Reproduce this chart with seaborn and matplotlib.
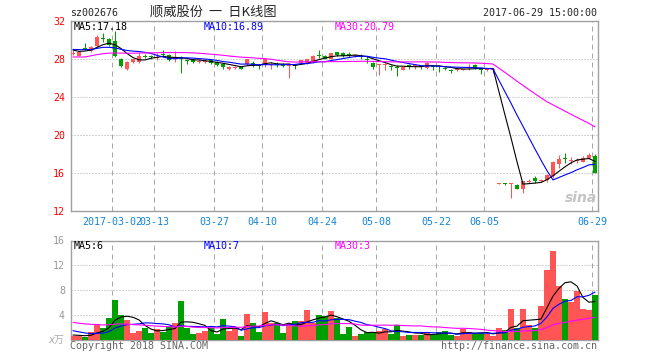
import numpy as np
import pandas as pd
import seaborn as sns
import matplotlib
matplotlib.use('Agg')
import matplotlib.pyplot as plt

# daily candles, 2017-02-21 .. 2017-06-29 (one entry per trading day)
opens = [28.60, 28.35, 29.15, 28.80, 29.40, 30.15, 30.10, 29.90, 28.00, 26.90,
         27.70, 27.70, 28.35, 28.30, 28.15, 28.50, 28.40, 28.10, 28.20, 27.90,
         27.95, 27.75, 27.70, 27.90, 27.70, 27.50, 26.90, 27.10, 27.20, 27.50,
         27.60, 27.35, 27.40, 27.35, 27.45, 27.50, 27.30, 27.35, 27.55, 27.55,
         27.70, 28.35, 28.30, 28.00, 28.70, 28.60, 28.45, 28.30, 28.30, 27.95,
         27.60, 27.35, 27.35, 27.20, 27.20, 26.85, 27.30, 27.25, 27.20, 27.10,
         27.20, 27.20, 27.10, 26.85, 26.90, 26.90, 27.10, 27.40, 26.95, 26.90,
         26.90, 14.85, 14.90, 14.85, 14.70, 14.30, 15.10, 15.45, 15.20, 15.30,
         15.70, 16.90, 17.55, 17.30, 17.25, 17.20, 17.55, 17.80]
highs = [28.90, 28.80, 29.70, 29.40, 30.50, 30.70, 30.20, 30.95, 28.10, 27.80,
         28.05, 28.60, 28.50, 28.40, 28.60, 28.90, 28.50, 28.80, 28.30, 28.05,
         28.00, 28.00, 27.95, 28.00, 27.80, 27.60, 27.30, 27.30, 27.30, 28.05,
         27.75, 27.50, 28.00, 27.70, 27.70, 27.55, 27.45, 27.50, 27.90, 28.00,
         28.40, 28.95, 28.40, 28.65, 28.75, 28.70, 28.70, 28.50, 28.50, 28.30,
         27.70, 27.50, 27.55, 27.35, 27.35, 27.20, 27.50, 27.50, 27.35, 27.65,
         27.35, 27.35, 27.15, 27.00, 27.05, 27.00, 27.50, 27.45, 27.05, 27.00,
         27.00, 15.00, 15.00, 14.95, 14.80, 15.20, 15.40, 15.70, 15.35, 15.85,
         17.25, 17.90, 18.10, 17.65, 17.55, 17.75, 18.15, 17.95]
lows = [28.45, 28.30, 28.95, 28.70, 29.30, 29.80, 29.40, 28.20, 27.20, 26.80,
        27.60, 27.60, 28.10, 28.00, 27.90, 28.20, 27.80, 27.70, 26.50, 27.50,
        27.60, 27.60, 27.60, 27.50, 27.30, 26.90, 26.80, 27.00, 26.90, 27.40,
        27.20, 26.95, 27.20, 27.00, 27.20, 27.15, 26.00, 27.00, 27.50, 27.50,
        27.60, 28.10, 28.00, 27.95, 28.30, 28.25, 28.20, 28.20, 28.00, 27.60,
        26.90, 26.30, 26.80, 26.80, 26.20, 26.80, 27.00, 27.00, 26.95, 27.00,
        26.80, 26.60, 26.85, 26.50, 26.70, 26.80, 26.85, 27.00, 26.40, 26.70,
        26.50, 14.80, 14.75, 13.40, 14.30, 13.90, 14.95, 14.90, 15.05, 15.10,
        15.50, 16.50, 17.05, 16.90, 17.10, 17.15, 17.50, 15.95]
closes = [28.65, 28.75, 29.10, 29.30, 30.30, 30.10, 29.50, 28.30, 27.30, 27.70,
          27.95, 28.30, 28.25, 28.20, 28.20, 28.45, 27.85, 28.15, 28.00, 27.85,
          27.70, 27.80, 27.75, 27.60, 27.40, 27.20, 27.20, 27.15, 26.95, 27.95,
          27.40, 27.30, 27.95, 27.40, 27.40, 27.25, 27.35, 27.30, 27.85, 27.95,
          28.30, 28.30, 28.05, 28.60, 28.40, 28.35, 28.40, 28.35, 28.25, 27.90,
          27.20, 27.40, 27.40, 27.15, 27.10, 27.15, 27.25, 27.30, 27.15, 27.60,
          27.15, 27.15, 26.90, 26.80, 26.95, 26.95, 27.15, 27.05, 26.90, 26.95,
          26.95, 14.90, 14.85, 14.90, 14.35, 15.15, 15.15, 15.15, 15.25, 15.80,
          17.20, 17.50, 17.50, 17.35, 17.30, 17.60, 17.90, 15.95]
# volume, x 10k
volumes = [0.64, 0.64, 0.50, 1.30, 2.60, 1.90, 3.60, 6.40, 4.00, 3.20,
           1.07, 1.44, 2.00, 1.07, 1.76, 1.33, 2.24, 2.80, 6.24, 2.00,
           0.96, 1.07, 1.44, 2.00, 0.96, 3.36, 1.44, 1.87, 0.64, 4.16,
           2.80, 1.23, 4.48, 2.77, 2.67, 1.07, 2.56, 3.04, 3.04, 4.80,
           2.77, 4.00, 3.84, 4.64, 3.47, 0.96, 2.13, 0.64, 0.96, 1.23,
           1.23, 1.44, 1.70, 0.96, 2.40, 0.64, 0.80, 0.80, 0.80, 1.23,
           0.80, 1.23, 1.44, 0.80, 0.64, 1.70, 1.30, 0.96, 1.07, 0.96,
           0.64, 2.00, 1.60, 4.96, 2.00, 4.96, 2.40, 2.00, 5.44, 11.20,
           14.24, 8.64, 6.56, 6.13, 7.90, 4.96, 4.80, 7.20]

# the 29 sessions before the first candle, only used to seed the moving averages
prev_closes = [28.75, 29.10, 25.50, 26.50, 27.50, 27.60, 27.80, 27.70, 27.90, 28.00,
               27.80, 27.90, 28.00, 27.90, 27.80, 27.90, 28.00, 28.10, 28.20, 28.30,
               29.00, 29.10, 29.20, 29.10, 28.95, 29.50, 28.90, 28.80, 28.90]
prev_volumes = [4.5, 3.8, 3.2, 4.0, 3.5, 2.9, 3.0, 3.6, 4.2, 3.3,
                2.8, 3.1, 3.9, 3.4, 3.0, 3.6, 3.2, 3.5, 3.3, 4.0,
                2.6, 2.2, 2.4, 1.9, 1.9, 0.9, 0.8, 0.9, 0.76]

tick_idx = [7, 14, 24, 32, 42, 51, 61, 69, 87]
tick_labels = ['2017-03-02', '03-13', '03-27', '04-10', '04-24', '05-08', '05-22', '06-05', '06-29']
price_ticks = [12, 16, 20, 24, 28, 32]
vol_ticks = [4, 8, 12, 16]

RED = '#ff5555'
GREEN = '#009f00'
DATE_BLUE = '#1484d4'
GRID = '#a8a8a8'
MA_COLORS = {5: 'black', 10: '#0000ff', 30: '#ff00ff'}

n = len(closes)
idx = np.arange(n)
o = np.array(opens)
c = np.array(closes)
up = c >= o
colors = np.where(up, RED, GREEN)

k = len(prev_closes)
close_all = pd.Series(prev_closes + closes)
vol_all = pd.Series(prev_volumes + volumes)
price_ma = {w: close_all.rolling(w).mean().iloc[k:].to_numpy() for w in (5, 10, 30)}
vol_ma = {w: vol_all.rolling(w).mean().iloc[k:].to_numpy() for w in (5, 10, 30)}

sns.set_style('white')
plt.rcParams['font.family'] = ['DejaVu Sans Mono', 'Noto Sans CJK SC']

W, H = 660, 360
def fx(x):
    return x / W
def fy(y):
    return 1 - y / H

fig = plt.figure(figsize=(6.6, 3.6), dpi=100)
ax1 = fig.add_axes([fx(70.5), fy(211), (597.5 - 70.5) / W, 190 / H])
ax2 = fig.add_axes([fx(70.5), fy(340), (597.5 - 70.5) / W, (340 - 240.5) / H])

# candles
ax1.vlines(idx, lows, highs, colors=colors, lw=0.75, zorder=2)
body = np.abs(c - o)
body_h = np.maximum(body, 0.1)
body_lo = np.minimum(o, c) - (body_h - body) / 2
ax1.bar(idx, body_h, bottom=body_lo, width=0.78, color=colors, linewidth=0, zorder=3)
for w in (5, 10, 30):
    sns.lineplot(x=idx, y=price_ma[w], color=MA_COLORS[w], lw=0.8, ax=ax1, zorder=4)

# volume
vol_df = pd.DataFrame({'idx': idx, 'vol': volumes, 'dir': np.where(up, 'up', 'down')})
sns.barplot(data=vol_df, x='idx', y='vol', hue='dir', palette={'up': RED, 'down': GREEN},
            native_scale=True, width=0.85, dodge=False, saturation=1, linewidth=0,
            legend=False, ax=ax2, zorder=3)
for w in (5, 10, 30):
    sns.lineplot(x=idx, y=vol_ma[w], color=MA_COLORS[w], lw=0.8, ax=ax2, zorder=4)

for ax in (ax1, ax2):
    ax.set_xlim(-0.42, 87.42)
    ax.set_xlabel('')
    ax.set_ylabel('')
    ax.set_xticks(np.array(tick_idx) - 0.5)
    for s in ax.spines.values():
        s.set_color('#a0a0a0')
        s.set_linewidth(1.0)
    ax.xaxis.grid(True, ls=(0, (5, 4)), color=GRID, lw=0.72)
    ax.yaxis.grid(True, ls=(0, (1, 2)), color=GRID, lw=0.72)
    ax.set_axisbelow(True)
    ax.tick_params(length=0, labelsize=7.2)

ax1.set_ylim(12, 32)
ax1.set_yticks(price_ticks)
ax1.tick_params(axis='y', labelcolor='red', pad=4)
ax1.set_xticklabels(tick_labels)
ax1.tick_params(axis='x', labelcolor=DATE_BLUE, pad=4)

ax2.set_ylim(0, 16)
ax2.set_yticks(vol_ticks)
ax2.set_xticklabels([])
ax2.tick_params(axis='y', labelcolor='#999999', pad=4)

# header
fig.text(fx(70), fy(13), 'sz002676', fontsize=7.2, ha='left', va='center')
fig.text(fx(213), fy(12), '顺威股份  一  日K线图', fontsize=9.5, ha='center', va='center',
         family=['Noto Sans CJK SC', 'DejaVu Sans'])
fig.text(fx(597), fy(13), '2017-06-29 15:00:00', fontsize=7.2, ha='right', va='center')

# moving average labels
fig.text(fx(74), fy(26.5), 'MA5:17.18', fontsize=7.2, color=MA_COLORS[5], va='center')
fig.text(fx(204), fy(26.5), 'MA10:16.89', fontsize=7.2, color=MA_COLORS[10], va='center')
fig.text(fx(335), fy(26.5), 'MA30:20.79', fontsize=7.2, color=MA_COLORS[30], va='center')
fig.text(fx(74), fy(246), 'MA5:6', fontsize=7.2, color=MA_COLORS[5], va='center')
fig.text(fx(204), fy(246), 'MA10:7', fontsize=7.2, color=MA_COLORS[10], va='center')
fig.text(fx(335), fy(246), 'MA30:3', fontsize=7.2, color=MA_COLORS[30], va='center')

# footer
fig.text(fx(64), fy(340), 'x万', fontsize=7.2, color='#aaaaaa', ha='right', va='center',
         style='italic', family=['DejaVu Sans', 'Noto Sans CJK SC'])
fig.text(fx(70), fy(346), 'Copyright 2018 SINA.COM', fontsize=7.2, color='#666666', ha='left', va='center')
fig.text(fx(597), fy(346), 'http://finance.sina.com.cn', fontsize=7.2, color='#666666', ha='right', va='center')
fig.text(fx(581), fy(198), 'sina', fontsize=10, color='#c4c4c4', ha='center', va='center',
         style='italic', weight='bold', family='DejaVu Sans')

fig.savefig('out.png', dpi=100)
